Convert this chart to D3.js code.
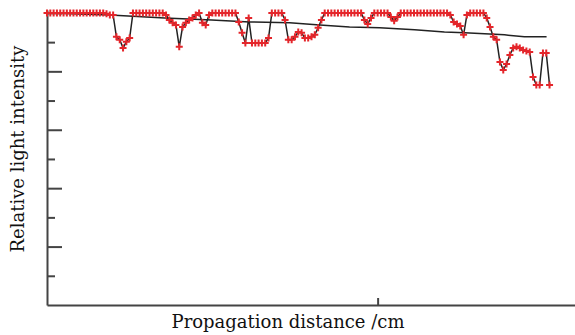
<!DOCTYPE html>
<html>
<head>
<meta charset="utf-8">
<script src="https://cdn.jsdelivr.net/npm/d3@7"></script>
<style>
  body { margin: 0; background: #fff; }
  svg { display: block; }
  .axis path, .axis line { stroke: #444; stroke-width: 2; }
  .label { font-family: "DejaVu Serif", serif; font-size: 18px; fill: #111; }
</style>
</head>
<body>
<div id="chart"></div>
<script>
// measured intensity, one value every 0.1 cm
const intensity = [
  1.000, 1.000, 1.000, 1.000, 1.000, 1.000, 1.000, 1.000, 1.000, 1.000,
  1.000, 1.000, 1.000, 1.000, 1.000, 1.000, 1.000, 1.000, 0.997, 0.993,
  0.993, 0.918, 0.908, 0.880, 0.901, 0.914, 1.000, 1.000, 1.000, 1.000,
  1.000, 1.000, 1.000, 1.000, 1.000, 1.000, 0.993, 0.976, 0.966, 0.959,
  0.884, 0.952, 0.966, 0.976, 0.983, 0.993, 1.000, 0.966, 0.959, 0.993,
  1.000, 1.000, 1.000, 1.000, 1.000, 1.000, 1.000, 1.000, 0.969, 0.932,
  0.897, 0.983, 0.897, 0.897, 0.897, 0.897, 0.897, 0.914, 1.000, 1.000,
  1.000, 1.000, 0.976, 0.908, 0.908, 0.918, 0.935, 0.932, 0.914, 0.914,
  0.918, 0.925, 0.949, 0.976, 1.000, 1.000, 1.000, 1.000, 1.000, 1.000,
  1.000, 1.000, 1.000, 1.000, 1.000, 1.000, 0.976, 0.962, 0.983, 1.000,
  1.000, 1.000, 1.000, 1.000, 0.986, 0.973, 0.986, 1.000, 1.000, 1.000,
  1.000, 1.000, 1.000, 1.000, 1.000, 1.000, 1.000, 1.000, 1.000, 1.000,
  1.000, 1.000, 0.993, 0.969, 0.962, 0.955, 0.925, 0.993, 1.000, 1.000,
  1.000, 1.000, 1.000, 0.983, 0.952, 0.918, 0.908, 0.832, 0.805, 0.825,
  0.856, 0.880, 0.884, 0.880, 0.873, 0.870, 0.866, 0.781, 0.753, 0.753,
  0.863, 0.863, 0.753
];
const distance = intensity.map((d, i) => i / 10);

// fitted trend
const trendDistance = [0, 1.9, 3.56, 4.98, 6.13, 7.34, 8.25, 9.15, 10.06, 11.12, 12.02, 12.63, 13.84, 14.44, 15.11];
const trendValue = [1.000, 0.993, 0.983, 0.976, 0.969, 0.966, 0.959, 0.952, 0.949, 0.942, 0.935, 0.932, 0.925, 0.918, 0.918];

const majorTicks = [0.2, 0.4, 0.6, 0.8, 1.0];
const minorTicks = [0.1, 0.3, 0.5, 0.7, 0.9];
const xTicks = [10];

const width = 575, height = 335;

const svg = d3.select("#chart").append("svg")
  .attr("width", width)
  .attr("height", height);

const x = d3.scaleLinear().domain([0, 16]).range([47, 576]);
const y = d3.scaleLinear().domain([0, 1.01]).range([305, 10]);

svg.append("g")
  .attr("class", "axis")
  .attr("transform", "translate(0,305)")
  .call(d3.axisBottom(x).tickValues(xTicks).tickSizeInner(-7).tickSizeOuter(0).tickFormat(""));

svg.append("g")
  .attr("class", "axis")
  .attr("transform", "translate(47,0)")
  .call(d3.axisLeft(y).tickValues(majorTicks).tickSizeInner(-15).tickSizeOuter(0).tickFormat(""));

svg.append("g")
  .attr("class", "axis")
  .attr("transform", "translate(47,0)")
  .call(d3.axisLeft(y).tickValues(minorTicks).tickSizeInner(-8).tickSizeOuter(0).tickFormat(""))
  .select(".domain").remove();

const trend = trendDistance.map((d, i) => [d, trendValue[i]]);
svg.append("path")
  .datum(trend)
  .attr("fill", "none")
  .attr("stroke", "#222")
  .attr("stroke-width", 1.5)
  .attr("d", d3.line().x(d => x(d[0])).y(d => y(d[1])));

const pts = distance.map((d, i) => [d, intensity[i]]);
svg.append("path")
  .datum(pts)
  .attr("fill", "none")
  .attr("stroke", "#222")
  .attr("stroke-width", 1.5)
  .attr("d", d3.line().x(d => x(d[0])).y(d => y(d[1])));

svg.append("g")
  .selectAll("path")
  .data(pts)
  .enter().append("path")
    .attr("transform", d => "translate(" + x(d[0]) + "," + y(d[1]) + ")")
    .attr("d", "M-3.5,0H3.5M0,-3.5V3.5")
    .attr("stroke", "#e4262b")
    .attr("stroke-width", 2)
    .attr("fill", "none");

svg.append("text")
  .attr("class", "label")
  .attr("text-anchor", "middle")
  .attr("x", 288)
  .attr("y", 328)
  .text("Propagation distance /cm");

svg.append("text")
  .attr("class", "label")
  .attr("text-anchor", "middle")
  .attr("transform", "translate(24,149) rotate(-90)")
  .text("Relative light intensity");
</script>
</body>
</html>
